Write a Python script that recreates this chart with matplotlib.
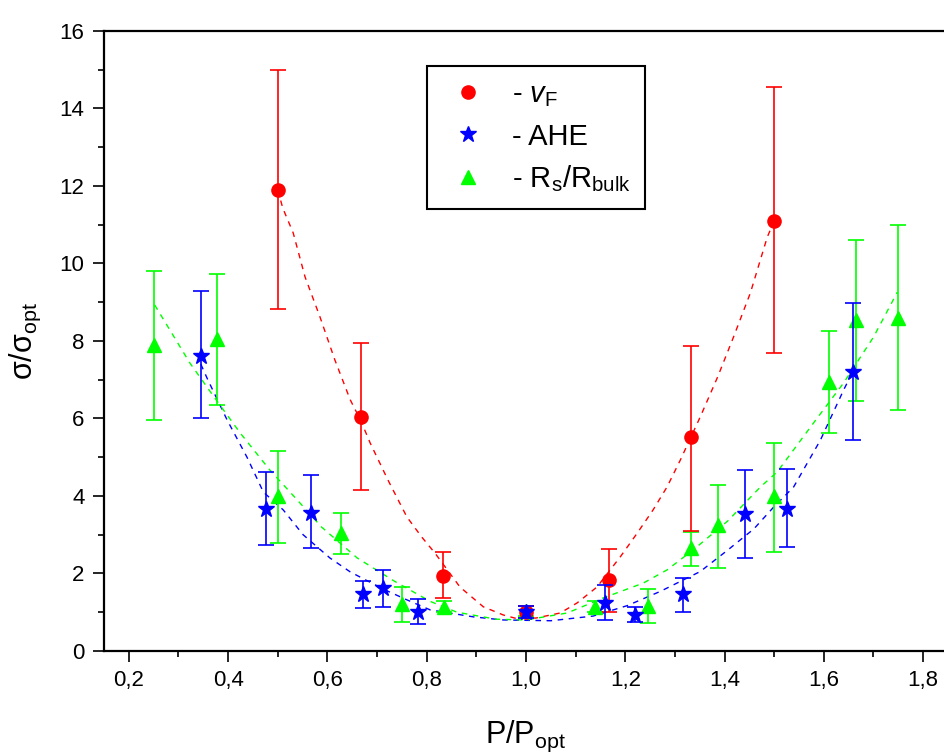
import matplotlib
matplotlib.use('Agg')
import matplotlib.pyplot as plt
from matplotlib.lines import Line2D
from matplotlib.ticker import MultipleLocator, FuncFormatter

plt.rcParams['font.family'] = ['Liberation Sans', 'DejaVu Sans']
plt.rcParams['mathtext.fontset'] = 'custom'
plt.rcParams['mathtext.rm'] = 'Liberation Sans'
plt.rcParams['mathtext.it'] = 'Liberation Sans:italic'
plt.rcParams['mathtext.bf'] = 'Liberation Sans:bold'

# v_F data (red circles)
vf_x = [0.5, 0.667, 0.833, 1.0, 1.167, 1.333, 1.5]
vf_y = [11.9, 6.04, 1.94, 1.0, 1.83, 5.52, 11.1]
vf_lo = [8.83, 4.15, 1.37, 0.85, 1.0, 3.1, 7.69]
vf_hi = [15.0, 7.95, 2.55, 1.15, 2.64, 7.88, 14.55]

# AHE data (blue stars)
ahe_x = [0.345, 0.476, 0.567, 0.672, 0.712, 0.783, 1.0, 1.16, 1.22, 1.317, 1.442, 1.525, 1.658]
ahe_y = [7.61, 3.66, 3.57, 1.48, 1.62, 1.0, 1.0, 1.25, 0.93, 1.47, 3.54, 3.66, 7.2]
ahe_lo = [6.01, 2.74, 2.66, 1.11, 1.14, 0.70, 0.85, 0.80, 0.74, 1.0, 2.40, 2.69, 5.45]
ahe_hi = [9.3, 4.62, 4.53, 1.81, 2.1, 1.34, 1.15, 1.7, 1.14, 1.88, 4.67, 4.7, 8.98]

# Rs/Rbulk data (green triangles)
rs_x = [0.25, 0.377, 0.5, 0.628, 0.75, 0.835, 1.0, 1.138, 1.246, 1.333, 1.387, 1.5, 1.611, 1.665, 1.75]
rs_y = [7.9, 8.05, 4.0, 3.05, 1.21, 1.14, 1.03, 1.14, 1.16, 2.66, 3.25, 4.0, 6.95, 8.55, 8.6]
rs_lo = [5.96, 6.35, 2.79, 2.49, 0.75, 1.0, 0.9, 1.0, 0.72, 2.19, 2.14, 2.55, 5.63, 6.45, 6.22]
rs_hi = [9.8, 9.72, 5.16, 3.57, 1.64, 1.3, 1.15, 1.3, 1.6, 3.07, 4.28, 5.37, 8.26, 10.6, 11.0]

# dashed fit curves
vf_fit_x = [0.5, 0.51, 0.531, 0.555, 0.585, 0.615, 0.646, 0.667, 0.686, 0.722, 0.76, 0.79,
            0.817, 0.867, 0.914, 0.954, 0.98, 1.02, 1.069, 1.103, 1.143, 1.19, 1.224, 1.256,
            1.284, 1.311, 1.351, 1.386, 1.418, 1.452, 1.486, 1.5]
vf_fit_y = [11.9, 11.43, 10.79, 9.65, 8.62, 7.51, 6.48, 5.95, 5.37, 4.41, 3.46, 2.94,
            2.52, 1.65, 1.14, 0.93, 0.84, 0.85, 0.98, 1.24, 1.65, 2.43, 3.04, 3.64,
            4.23, 4.93, 6.04, 7.07, 8.1, 9.24, 10.68, 11.1]

ahe_fit_x = [0.345, 0.359, 0.398, 0.438, 0.471, 0.511, 0.551, 0.605, 0.646, 0.712, 0.76,
             0.807, 0.894, 0.954, 1.05, 1.135, 1.204, 1.271, 1.351, 1.406, 1.459, 1.498,
             1.539, 1.593, 1.64, 1.66]
ahe_fit_y = [7.4, 7.0, 5.96, 5.0, 4.1, 3.64, 3.0, 2.4, 2.04, 1.6, 1.32,
             1.06, 0.88, 0.8, 0.78, 0.9, 1.17, 1.54, 2.05, 2.6, 3.15, 3.7,
             4.23, 5.44, 6.74, 7.25]

rs_fit_x = [0.252, 0.323, 0.373, 0.424, 0.484, 0.539, 0.588, 0.66, 0.735, 0.807, 0.861,
            0.94, 1.0, 1.083, 1.156, 1.236, 1.284, 1.337, 1.406, 1.472, 1.506, 1.579,
            1.64, 1.7, 1.748]
rs_fit_y = [8.93, 7.43, 6.53, 5.63, 4.67, 3.9, 3.2, 2.4, 1.8, 1.28, 1.0,
            0.82, 0.8, 0.98, 1.37, 1.75, 2.09, 2.61, 3.35, 4.23, 4.62, 5.88,
            6.92, 8.1, 9.26]

RED = '#ff0000'
BLUE = '#0000ff'
GREEN = '#00ff00'

fig = plt.figure(figsize=(9.44, 7.53), dpi=100)
ax = fig.add_axes([0.1102, 0.1355, 0.894, 0.8234])

ax.plot(vf_fit_x, vf_fit_y, '--', color=RED, lw=1.0, dashes=(4, 4), zorder=2)
ax.plot(ahe_fit_x, ahe_fit_y, '--', color=BLUE, lw=1.0, dashes=(4, 4), zorder=2)
ax.plot(rs_fit_x, rs_fit_y, '--', color=GREEN, lw=1.0, dashes=(4, 4), zorder=2)


def err(y, lo, hi):
    return [[a - b for a, b in zip(y, lo)], [c - a for a, c in zip(y, hi)]]


ax.errorbar(rs_x, rs_y, yerr=err(rs_y, rs_lo, rs_hi), fmt='^', color=GREEN, ms=10.5,
            capsize=6, elinewidth=1.2, capthick=1.2, zorder=3)
ax.errorbar(ahe_x, ahe_y, yerr=err(ahe_y, ahe_lo, ahe_hi), fmt='*', color=BLUE, ms=12,
            capsize=6, elinewidth=1.2, capthick=1.2, zorder=4)
ax.errorbar(vf_x, vf_y, yerr=err(vf_y, vf_lo, vf_hi), fmt='o', color=RED, ms=9.5,
            capsize=6, elinewidth=1.2, capthick=1.2, zorder=3)

ax.set_xlim(0.15, 1.85)
ax.set_ylim(0, 16)
ax.xaxis.set_major_locator(MultipleLocator(0.2))
ax.xaxis.set_minor_locator(MultipleLocator(0.1))
ax.yaxis.set_major_locator(MultipleLocator(2))
ax.yaxis.set_minor_locator(MultipleLocator(1))
ax.xaxis.set_major_formatter(FuncFormatter(lambda v, p: ('%.1f' % v).replace('.', ',')))
ax.yaxis.set_major_formatter(FuncFormatter(lambda v, p: '%d' % v))
ax.tick_params(which='major', direction='out', length=8, width=1.2, labelsize=16, pad=6)
ax.tick_params(which='minor', direction='out', length=4, width=1.2)
ax.tick_params(top=False, right=False)
for s in ax.spines.values():
    s.set_linewidth(1.6)

ax.set_xlabel('P/P$_\\mathrm{opt}$', fontsize=22, labelpad=20)
ax.set_ylabel('σ/σ$_\\mathrm{opt}$', fontsize=22, labelpad=12)

handles = [
    Line2D([], [], ls='none', marker='o', color=RED, ms=9.5),
    Line2D([], [], ls='none', marker='*', color=BLUE, ms=12),
    Line2D([], [], ls='none', marker='^', color=GREEN, ms=10.5),
]
labels = ['- $\\mathit{v}_\\mathrm{F}$', '- AHE', '- R$_\\mathrm{s}$/R$_\\mathrm{bulk}$']
leg = ax.legend(handles, labels, loc='upper left', bbox_to_anchor=(427 / 944, 1 - 66 / 753),
                bbox_transform=fig.transFigure, fontsize=21, frameon=True, fancybox=False,
                edgecolor='black', framealpha=1, borderpad=0.5, labelspacing=0.45,
                handletextpad=0.6, handlelength=1.8, borderaxespad=0)
leg.get_frame().set_linewidth(1.5)

fig.savefig('out.png', dpi=100)
